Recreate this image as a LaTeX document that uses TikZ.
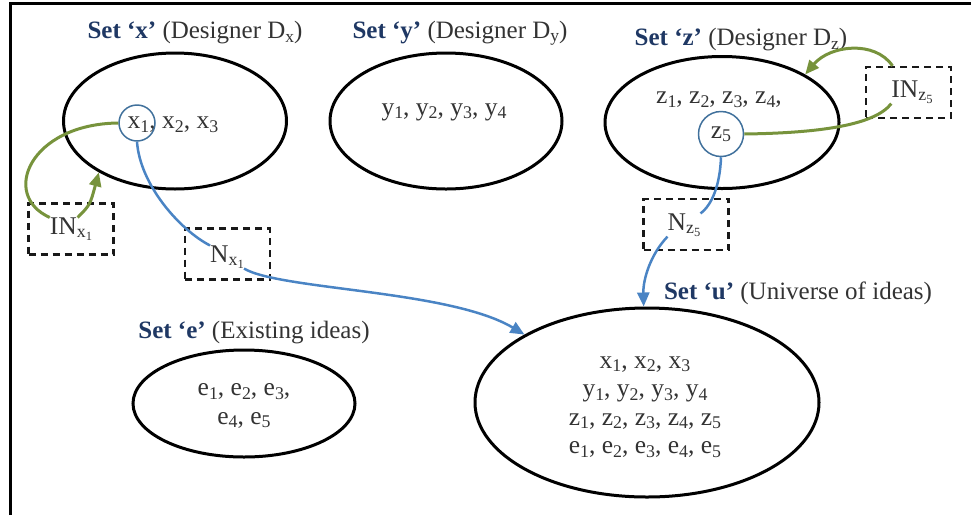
\documentclass[tikz,border=0pt]{standalone}
\usepackage{fontspec}
\setmainfont{Liberation Serif}
\usetikzlibrary{shapes.geometric,arrows.meta}
\definecolor{navy}{HTML}{1F3864}
\definecolor{txt}{HTML}{333333}
\definecolor{grn}{HTML}{77933C}
\definecolor{blu}{HTML}{4A84C4}
\definecolor{cblu}{HTML}{41719C}
\newcommand{\sbx}[1]{\raisebox{-0.3ex}{\scalebox{0.7}{#1}}}
\newcommand{\setlbl}[2]{\textcolor{navy}{\textbf{Set `#1'}} (#2)}
\begin{document}
\begin{tikzpicture}[x=1pt,y=-1pt,
  setell/.style={draw=black, line width=3pt, ellipse, inner sep=0pt},
  lbl/.style={text=txt, font=\fontsize{25}{30}\selectfont, inner sep=0pt},
  itm/.style={text=txt, font=\fontsize{25.5}{28.5}\selectfont, inner sep=0pt, align=center},
  dbox/.style={draw=black!90, dash pattern=on 7pt off 5pt, line width=2.2pt, minimum width=85pt, minimum height=51pt, inner sep=0pt},
  smallc/.style={circle, draw=cblu, line width=1.5pt, inner sep=0pt},
  garr/.style={draw=grn, line width=3pt},
  barr/.style={draw=blu, line width=2.5pt},
  arrtip/.style={-{Triangle[length=14pt,width=12pt]}}
]
\useasboundingbox (0,0) rectangle (971,515);
\draw[line width=3pt] (10,515) -- (10,3) -- (971,3);

% set ellipses
\node[setell, minimum width=223pt, minimum height=136pt] (ex) at (175,121) {};
\node[setell, minimum width=232pt, minimum height=136pt] (ey) at (446,121) {};
\node[setell, minimum width=234pt, minimum height=132pt] (ez) at (722,122.5) {};
\node[setell, minimum width=222pt, minimum height=107pt] (ee) at (244,403.5) {};
\node[setell, minimum width=344pt, minimum height=189pt] (eu) at (647,402.5) {};

% titles
\node[lbl] (tx) at (195,33) {\setlbl{x}{Designer D\sbx{x}}};
\node[lbl] (ty) at (460,33) {\setlbl{y}{Designer D\sbx{y}}};
\node[lbl] (tz) at (741,40) {\setlbl{z}{Designer D\sbx{z}}};
\node[lbl] (te) at (254,333) {\setlbl{e}{Existing ideas}};
\node[lbl] (tu) at (798,293) {\setlbl{u}{Universe of ideas}};

% contents
\node[itm] (xt) at (173,125) {x\sbx{1}, x\sbx{2}, x\sbx{3}};
\node[smallc, minimum size=36pt] (x1c) at (137,123) {};
\node[itm] (yt) at (444,112) {y\sbx{1}, y\sbx{2}, y\sbx{3}, y\sbx{4}};
\node[itm] (zt) at (719,100) {z\sbx{1}, z\sbx{2}, z\sbx{3}, z\sbx{4},};
\node[smallc, itm, minimum size=45pt] (z5c) at (721,134) {z\sbx{5}};
\node[itm] (et) at (244,406) {e\sbx{1}, e\sbx{2}, e\sbx{3},\\ e\sbx{4}, e\sbx{5}};
\node[itm] (ut) at (645,407) {x\sbx{1}, x\sbx{2}, x\sbx{3}\\ y\sbx{1}, y\sbx{2}, y\sbx{3}, y\sbx{4}\\ z\sbx{1}, z\sbx{2}, z\sbx{3}, z\sbx{4}, z\sbx{5}\\ e\sbx{1}, e\sbx{2}, e\sbx{3}, e\sbx{4}, e\sbx{5}};

% dashed boxes
\node[dbox] (inx1b) at (71,229) {};
\node[itm] (inx1t) at (71,229) {IN\sbx{x\sbx{1}}};
\node[dbox] (nx1b) at (227.5,254) {};
\node[itm] (nx1t) at (227,257) {N\sbx{x\sbx{1}}};
\node[dbox] (inz5b) at (908.5,92.5) {};
\node[itm] (inz5t) at (912,92) {IN\sbx{z\sbx{5}}};
\node[dbox] (nz5b) at (686,224.5) {};
\node[itm] (nz5t) at (684,225) {N\sbx{z\sbx{5}}};

% connectors
\draw[garr] (x1c.west) .. controls (30,124) and (0,195) .. (inx1t.north west);
\draw[garr, arrtip] (inx1t.60) .. controls (90,205) .. (ex.214);
\draw[barr] (x1c.south) .. controls (140,185) and (180,230) .. (nx1t.north west);
\draw[barr, arrtip] (nx1t.south east) .. controls (280,290) and (450,290) .. (eu.151);
\draw[barr] (z5c.south) .. controls (720,185) and (712,205) .. (nz5t.north east);
\draw[barr, arrtip] (nz5t.south west) .. controls (650,255) and (643,280) .. (eu.92);
\draw[garr] (z5c.east) .. controls (820,133) and (875,125) .. (inz5t.south west);
\draw[garr, arrtip] (inz5b.121) .. controls (875,40) and (830,45) .. (ez.30);
\end{tikzpicture}
\end{document}
